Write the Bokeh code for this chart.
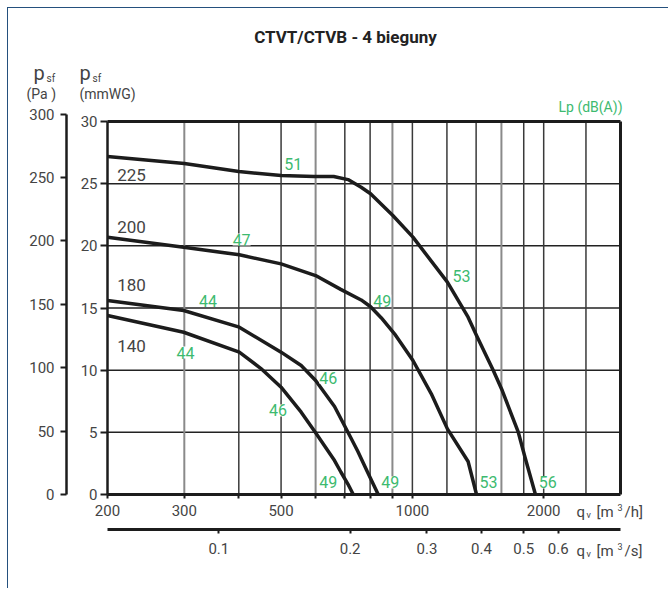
import math
from bokeh.plotting import figure
from bokeh.models import (Range1d, LinearAxis, LogAxis, LogScale, FixedTicker,
                          Label, LabelSet, ColumnDataSource)
from bokeh.core.properties import value
from bokeh.embed import file_html
from bokeh.resources import INLINE

MMWG_TO_PA = 9.80665

# ---- curves: q [m3/h], p_sf [mmWG] ----
q_225 = [200, 300, 400, 500, 595, 660, 712, 763, 802, 902, 1003, 1203, 1342, 1403, 1533, 1607, 1749, 1812, 1915]
p_225 = [27.19, 26.63, 25.98, 25.66, 25.58, 25.58, 25.33, 24.72, 24.19, 22.44, 20.70, 17.08, 14.26, 12.79, 9.97, 8.36, 5.01, 3.0, 0.0]

q_200 = [200, 299, 401, 500, 600, 685, 763, 802, 849, 910, 1003, 1105, 1203, 1342, 1403]
p_200 = [20.70, 19.89, 19.28, 18.55, 17.61, 16.5, 15.65, 15.1, 14.2, 12.93, 10.78, 8.1, 5.28, 2.65, 0.0]

q_180 = [200, 299, 401, 500, 556, 600, 663, 724, 750, 788, 835]
p_180 = [15.6, 14.8, 13.46, 11.45, 10.38, 9.17, 7.08, 4.5, 3.46, 1.85, 0.0]

q_140 = [200, 299, 401, 449, 500, 556, 600, 663, 686, 711, 732]
p_140 = [14.4, 13.05, 11.45, 10.15, 8.63, 6.62, 4.96, 2.73, 1.79, 0.86, 0.0]

speed_labels = ["225", "200", "180", "140"]
speed_label_q = [227, 227, 227, 227]
speed_label_p = [25.74, 21.48, 16.89, 11.98]

lp_labels = ["51", "47", "44", "44", "46", "46", "49", "49", "53", "56", "49", "53"]
lp_q = [533, 406, 340, 302, 641, 492, 641, 890, 1495, 2043, 853, 1296]
lp_p = [26.62, 20.51, 15.60, 11.42, 9.41, 6.76, 0.97, 0.97, 0.97, 0.97, 15.60, 17.61]

qh_ticks = [200, 300, 400, 500, 600, 700, 800, 900, 1000, 2000]
qh_tick_labels = ["200", "300", "", "500", "", "", "", "", "1000", "2000"]
qs_ticks = [0.1, 0.2, 0.3, 0.4, 0.5, 0.6]
qs_tick_labels = ["0.1", "0.2", "0.3", "0.4", "0.5", "0.6"]
pa_ticks = [0, 50, 100, 150, 200, 250, 300]
mmwg_ticks = [0, 5, 10, 15, 20, 25, 30]
vgrid_dark = [400, 500, 700, 800, 1000, 1200, 1400, 1800, 2000, 2500]
vgrid_light = [300, 600, 900, 1600]
hgrid = [5, 10, 15, 20, 25]

Q_MIN, Q_MAX = 200, 3000
PA_MAX = 300
MMWG_TOP = 30

# ---- page geometry (pixels) ----
CANVAS_W, CANVAS_H = 661, 581
OX, OY = 8, 8                 # canvas origin on the page
X0_PX, X1_PX = 107, 620       # page x of Q_MIN and Q_MAX
Y0_PX, PA300_PX = 494, 113.7  # page y of 0 and of 300 Pa
PA_AXIS_PX = 66               # page x of the Pa axis
QS_AXIS_PX = 528.5            # page y of the m3/s axis

K = (X1_PX - X0_PX) / math.log10(Q_MAX / Q_MIN)
S = (Y0_PX - PA300_PX) / (PA_MAX / MMWG_TO_PA)

def px2x(px):
    return Q_MIN * 10 ** ((px - X0_PX) / K)

def py2y(py):
    return (Y0_PX - py) / S

x_start, x_end = px2x(OX), px2x(OX + CANVAS_W)
y_start, y_end = py2y(OY + CANVAS_H), py2y(OY)

FONT = "Roboto"
TXT = "#444444"
GREEN = "#3dba6f"
INK = "#1c1c1c"

p = figure(width=CANVAS_W, height=CANVAS_H, x_axis_type="log",
           x_range=Range1d(x_start, x_end), y_range=Range1d(y_start, y_end),
           x_axis_location=None, y_axis_location=None, title=None,
           output_backend="svg", toolbar_location=None,
           min_border_left=0, min_border_right=0, min_border_top=0, min_border_bottom=0)
p.outline_line_color = None
p.background_fill_color = "white"
p.border_fill_color = "white"
p.xgrid.visible = False
p.ygrid.visible = False
p.styles = {"margin-left": "7px", "margin-top": "7px",
            "border-left": "1px solid #24507d", "border-top": "1px solid #24507d"}

p.extra_y_ranges = {"pa": Range1d(y_start * MMWG_TO_PA, y_end * MMWG_TO_PA)}
p.extra_x_ranges = {"qs": Range1d(x_start / 3600, x_end / 3600)}
p.extra_x_scales = {"qs": LogScale()}

def style_axis(ax, width=2.5, tick_out=6, standoff=4):
    ax.axis_line_color = INK
    ax.axis_line_width = width
    ax.major_tick_line_color = INK
    ax.major_tick_line_width = 2
    ax.minor_tick_line_color = None
    ax.major_tick_in = 0
    ax.major_tick_out = tick_out
    ax.major_label_standoff = standoff
    ax.major_label_text_font = FONT
    ax.major_label_text_font_size = "15px"
    ax.major_label_text_color = TXT

# mmWG axis
mm_axis = LinearAxis(ticker=FixedTicker(ticks=mmwg_ticks), bounds=(0, MMWG_TOP), fixed_location=Q_MIN)
style_axis(mm_axis, tick_out=7, standoff=3)
p.add_layout(mm_axis, "left")

# Pa axis
pa_axis = LinearAxis(y_range_name="pa", ticker=FixedTicker(ticks=pa_ticks), bounds=(0, PA_MAX),
                     fixed_location=px2x(PA_AXIS_PX))
style_axis(pa_axis, tick_out=6, standoff=6)
p.add_layout(pa_axis, "left")

# right border
r_axis = LinearAxis(ticker=FixedTicker(ticks=[]), bounds=(0, MMWG_TOP), fixed_location=Q_MAX)
style_axis(r_axis, width=3)
p.add_layout(r_axis, "right")

# m3/h axis
qh_axis = LogAxis(ticker=FixedTicker(ticks=qh_ticks), bounds=(Q_MIN, Q_MAX), fixed_location=0)
style_axis(qh_axis, width=3, tick_out=4, standoff=6)
qh_axis.major_label_overrides = {t: l for t, l in zip(qh_ticks, qh_tick_labels)}
p.add_layout(qh_axis, "below")

# m3/s axis
qs_axis = LogAxis(x_range_name="qs", ticker=FixedTicker(ticks=qs_ticks),
                  bounds=(Q_MIN / 3600, Q_MAX / 3600), fixed_location=py2y(QS_AXIS_PX))
style_axis(qs_axis, width=3, tick_out=4, standoff=10)
qs_axis.major_label_overrides = {t: l for t, l in zip(qs_ticks, qs_tick_labels)}
p.add_layout(qs_axis, "below")

# grid
p.segment(x0=[Q_MIN] * len(hgrid), y0=hgrid, x1=[Q_MAX] * len(hgrid), y1=hgrid,
          line_color="#222222", line_width=1.5)
p.segment(x0=vgrid_dark, y0=[0] * len(vgrid_dark), x1=vgrid_dark, y1=[MMWG_TOP] * len(vgrid_dark),
          line_color="#3a3a3a", line_width=1.5)
p.segment(x0=vgrid_light, y0=[0] * len(vgrid_light), x1=vgrid_light, y1=[MMWG_TOP] * len(vgrid_light),
          line_color="#8a8a8a", line_width=2)
p.segment(x0=[Q_MIN], y0=[MMWG_TOP], x1=[Q_MAX], y1=[MMWG_TOP], line_color=INK, line_width=3)

# curves
for qq, pp in [(q_225, p_225), (q_200, p_200), (q_180, p_180), (q_140, p_140)]:
    p.line(qq, pp, line_color=INK, line_width=3.5, line_join="round")

# curve labels
p.add_layout(LabelSet(x="x", y="y", text="t",
                      source=ColumnDataSource(dict(x=speed_label_q, y=speed_label_p, t=speed_labels)),
                      text_align="center", text_baseline="middle", text_font=value(FONT),
                      text_font_size=value("17px"), text_color=TXT, background_fill_color="white"))
p.add_layout(LabelSet(x="x", y="y", text="t",
                      source=ColumnDataSource(dict(x=lp_q, y=lp_p, t=lp_labels)),
                      text_align="center", text_baseline="middle", text_font=value(FONT),
                      text_font_size=value("16px"), text_color=GREEN, background_fill_color="white"))

# free texts, positioned in page pixels
def slabel(text, px, py, size, color, align="left", style="normal"):
    p.add_layout(Label(x=px - OX, y=OY + CANVAS_H - py, x_units="screen", y_units="screen", text=text,
                       text_font=FONT, text_font_size=size, text_color=color, text_align=align,
                       text_baseline="middle", text_font_style=style))

slabel("CTVT/CTVB - 4 bieguny", 345, 36, "17px", "#222222", "center", "bold")
slabel("Lp (dB(A))", 622, 106, "14px", GREEN, "right")

slabel("p", 33, 72, "20px", TXT)
slabel("sf", 46, 78, "10px", TXT)
slabel("(Pa )", 26, 93, "14px", TXT)
slabel("p", 79, 72, "20px", TXT)
slabel("sf", 92, 78, "10px", TXT)
slabel("(mmWG)", 79, 93, "14px", TXT)

for yy, unit in [(511, "/h]"), (550, "/s]")]:
    slabel("q", 576, yy, "15px", TXT)
    slabel("v", 586, yy + 3, "9px", TXT)
    slabel("[m", 596, yy, "15px", TXT)
    slabel("3", 617, yy - 4, "9px", TXT)
    slabel(unit, 624, yy, "15px", TXT)

open("out.html", "w").write(file_html(p, INLINE))
